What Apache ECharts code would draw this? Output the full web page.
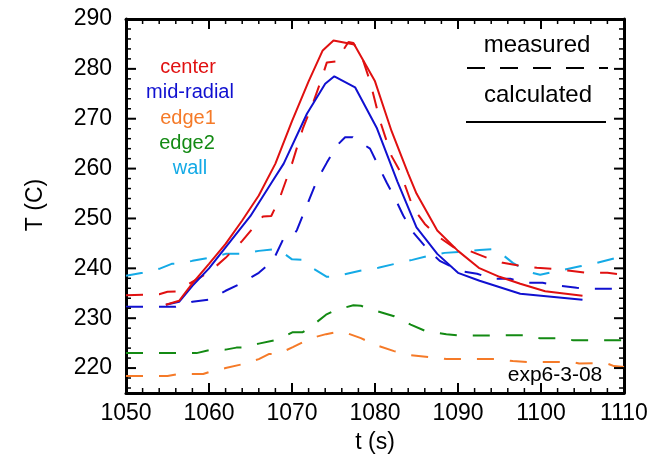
<!DOCTYPE html>
<html>
<head>
<meta charset="utf-8">
<script src="https://cdn.jsdelivr.net/npm/echarts@6/dist/echarts.min.js"></script>
</head>
<body style="margin:0">
<div id="main" style="width:654px;height:456px"></div>
<script>
var chart = echarts.init(document.getElementById('main'));

// measured (dashed) curves
var centerMeasT = [1050, 1054, 1055, 1056.3, 1057.5, 1060, 1062, 1064, 1066, 1066.5, 1067.5, 1068.5, 1070, 1071.3, 1072.5, 1073.5, 1074.2, 1075.4, 1076, 1076.8, 1077.4, 1078.5, 1079.4, 1080.6, 1082, 1083, 1084.6, 1086, 1087.5, 1089.5, 1091.4, 1093.5, 1095.4, 1097.5, 1099.5, 1101.4, 1103.5, 1105.5, 1108, 1110];
var centerMeas = [234.6, 234.8, 235.3, 235.4, 236.8, 239.2, 242.1, 245.5, 249.5, 250.4, 250.5, 254, 261, 268, 273, 277.7, 281.3, 281.5, 283.3, 285.4, 285.2, 282, 277.5, 269.6, 262.5, 259.5, 252.1, 248.9, 246.5, 244.2, 243.5, 242.1, 241.1, 240.5, 240.1, 239.9, 239.5, 239.1, 239.1, 238.7];

var midMeasT = [1050, 1056, 1056.6, 1058, 1060, 1062, 1064, 1066, 1067.7, 1068.9, 1069.6, 1070.3, 1070.6, 1073, 1074.2, 1075.4, 1076.4, 1077.3, 1079.4, 1080.4, 1081.4, 1082.4, 1083.4, 1084.6, 1086.3, 1087.8, 1090.2, 1092.3, 1094.2, 1096.3, 1098.3, 1100.2, 1102.3, 1104.3, 1106.3, 1110];
var midMeas = [232.3, 232.3, 232.5, 233.3, 233.7, 235.5, 237.1, 239.1, 241.5, 245.7, 246.8, 246.9, 247.7, 257.6, 261.2, 264.6, 266.3, 266.3, 264, 260.6, 257.2, 254.1, 250.6, 247.2, 243.9, 241.5, 239.5, 238.9, 237.9, 237.9, 237.1, 237.1, 236.5, 236.1, 235.9, 235.9];

var edge1MeasT = [1050, 1055, 1056.3, 1059.3, 1060, 1062, 1064.1, 1066, 1067.2, 1068.3, 1070.1, 1072.3, 1074.1, 1075.3, 1076.3, 1078.3, 1080.1, 1082.3, 1084.3, 1086.4, 1087.3, 1088.6, 1094.6, 1096.6, 1098.6, 1103.8, 1104.6, 1107.8, 1108.8, 1110];
var edge1Meas = [218.4, 218.4, 218.8, 218.8, 219.2, 220, 220.8, 221.8, 222.8, 222.8, 224.2, 226, 226.8, 227.2, 227.2, 226, 224.6, 223.4, 222.6, 222.2, 222.2, 221.8, 221.8, 221.4, 221.2, 221.2, 220.9, 221, 220.4, 220.2];

var edge2MeasT = [1050, 1058.5, 1060, 1062, 1063.3, 1064.1, 1066, 1068.3, 1070.1, 1071.3, 1072.3, 1074.1, 1075.3, 1076.3, 1077.4, 1078.3, 1080.1, 1082.3, 1084.3, 1086.4, 1087.3, 1088.6, 1090.4, 1098.6, 1099.8, 1102.6, 1103.8, 1110];
var edge2Meas = [223.0, 223.0, 223.6, 223.7, 224.1, 224.1, 224.9, 225.7, 227.2, 227.2, 228.3, 230.7, 231.7, 232.1, 232.6, 232.5, 231.5, 230.4, 228.7, 227.2, 227.1, 226.8, 226.5, 226.6, 226.0, 226.0, 225.6, 225.6];

var wallMeasT = [1050, 1052, 1054, 1055.5, 1056.3, 1058, 1060, 1062, 1064, 1066, 1068.3, 1070, 1071.2, 1072.4, 1074.2, 1075.2, 1076.1, 1078.2, 1080.4, 1082.4, 1084.5, 1086.4, 1088.4, 1090.5, 1092.6, 1094.5, 1096.6, 1098.5, 1099.9, 1102.7, 1104.7, 1106.7, 1110];
var wallMeas = [238.5, 239.1, 239.9, 240.9, 240.9, 241.5, 242.1, 242.9, 242.9, 243.5, 243.9, 241.8, 241.7, 240.1, 238.3, 238.3, 238.7, 239.5, 240.1, 240.9, 241.7, 242.5, 243.1, 243.3, 243.7, 243.9, 241.1, 239.3, 238.7, 239.7, 240.4, 241.1, 242.5];

// calculated (solid) curves
var centerCalcT = [1054.8, 1056.4, 1058, 1060, 1062, 1064, 1066, 1068, 1070, 1072, 1073.7, 1075, 1077.5, 1080, 1082, 1084, 1085, 1087.5, 1090, 1092.5, 1095, 1097.5, 1100.5, 1105];
var centerCalc = [232.7, 233.5, 237, 240.9, 244.9, 249.6, 254.6, 261, 269.5, 277.5, 283.7, 285.7, 284.9, 277.5, 267.5, 259, 255, 247.6, 243.5, 240.1, 238.3, 236.9, 235.4, 234.5];

var midCalcT = [1054.8, 1056.4, 1058, 1060, 1062, 1065, 1067.7, 1069, 1071.8, 1074, 1075.1, 1077.6, 1080.2, 1082.7, 1085, 1087.5, 1090, 1092.6, 1097.5, 1105];
var midCalc = [232.7, 233.3, 236.5, 240, 244.2, 250.5, 257.6, 261, 271, 277, 278.5, 276.3, 268.2, 257.4, 248.2, 242.9, 239.1, 237.5, 234.9, 233.7];

// axis ranges and tick steps
var xMin = 1050, xMax = 1110, xMajorStep = 10, xMinorStep = 2;
var yMin = 215, yMax = 290, yMajorStep = 10, yMinorStep = 2;

var colors = { center: '#e01010', mid: '#1010d0', edge1: '#f57a28', edge2: '#138a13', wall: '#14aae6' };
var FONT = 'Liberation Sans, Arial, sans-serif';

function pairs(t, v) {
  return t.map(function (x, i) { return [x, v[i]]; });
}

function lineSeries(name, t, v, color, dashed) {
  return {
    name: name,
    type: 'line',
    data: pairs(t, v),
    showSymbol: false,
    symbol: 'none',
    silent: true,
    lineStyle: { color: color, width: 2, type: dashed ? [17, 16] : 'solid' },
    z: dashed ? 2 : 3
  };
}

function frameAxis(pos, min, max, interval) {
  var ax = {
    type: 'value', position: pos, min: min, max: max,
    axisLine: { show: true, onZero: false, lineStyle: { color: '#000', width: 3 } },
    axisTick: { show: false },
    splitLine: { show: false },
    axisLabel: { show: false }
  };
  if (interval) ax.interval = interval; else ax.splitNumber = 7;
  return ax;
}

function labelAxis(pos, min, max, interval, label) {
  var ax = {
    type: 'value', position: pos, min: min, max: max,
    axisLine: { show: false, onZero: false },
    axisTick: { show: false },
    splitLine: { show: false },
    axisLabel: label
  };
  if (interval) ax.interval = interval; else ax.splitNumber = 7;
  return ax;
}

var texts = [
  { type: 'text', x: 375, y: 443, style: { text: 't (s)', fill: '#000', font: '23px ' + FONT, align: 'center', verticalAlign: 'middle' } },
  { type: 'text', x: 36, y: 205, rotation: Math.PI / 2, style: { text: 'T (C)', fill: '#000', font: '23px ' + FONT, align: 'center', verticalAlign: 'middle' } },
  { type: 'text', x: 188, y: 67, style: { text: 'center', fill: colors.center, font: '20px ' + FONT, align: 'center', verticalAlign: 'middle' } },
  { type: 'text', x: 190, y: 92, style: { text: 'mid-radial', fill: colors.mid, font: '20px ' + FONT, align: 'center', verticalAlign: 'middle' } },
  { type: 'text', x: 188, y: 118, style: { text: 'edge1', fill: colors.edge1, font: '20px ' + FONT, align: 'center', verticalAlign: 'middle' } },
  { type: 'text', x: 187, y: 143, style: { text: 'edge2', fill: colors.edge2, font: '20px ' + FONT, align: 'center', verticalAlign: 'middle' } },
  { type: 'text', x: 190, y: 168, style: { text: 'wall', fill: colors.wall, font: '20px ' + FONT, align: 'center', verticalAlign: 'middle' } },
  { type: 'text', x: 537, y: 45, style: { text: 'measured', fill: '#000', font: '24px ' + FONT, align: 'center', verticalAlign: 'middle' } },
  { type: 'line', shape: { x1: 467, y1: 68, x2: 608, y2: 68 }, style: { stroke: '#000', lineWidth: 2, lineDash: [18, 15] } },
  { type: 'text', x: 538, y: 95, style: { text: 'calculated', fill: '#000', font: '24px ' + FONT, align: 'center', verticalAlign: 'middle' } },
  { type: 'line', shape: { x1: 466, y1: 122, x2: 606, y2: 122 }, style: { stroke: '#000', lineWidth: 2 } },
  { type: 'text', x: 555, y: 375, style: { text: 'exp6-3-08', fill: '#000', font: '21px ' + FONT, align: 'center', verticalAlign: 'middle' } }
];

var option = {
  animation: false,
  grid: { left: 126, right: 30, top: 19, bottom: 63 },
  xAxis: [
    frameAxis('bottom', xMin, xMax, xMajorStep),
    frameAxis('top', xMin, xMax, xMajorStep),
    labelAxis('bottom', xMin, xMax, xMajorStep,
      { fontSize: 23, color: '#000', margin: 9, fontFamily: FONT, formatter: function (v) { return String(v); } })
  ],
  yAxis: [
    frameAxis('left', yMin, yMax),
    frameAxis('right', yMin, yMax),
    labelAxis('left', yMin, yMax, 0,
      { fontSize: 23, color: '#000', margin: 14, fontFamily: FONT, showMinLabel: false })
  ],
  series: [
    lineSeries('wall measured', wallMeasT, wallMeas, colors.wall, true),
    lineSeries('edge2 measured', edge2MeasT, edge2Meas, colors.edge2, true),
    lineSeries('edge1 measured', edge1MeasT, edge1Meas, colors.edge1, true),
    lineSeries('mid-radial measured', midMeasT, midMeas, colors.mid, true),
    lineSeries('center measured', centerMeasT, centerMeas, colors.center, true),
    lineSeries('mid-radial calculated', midCalcT, midCalc, colors.mid, false),
    lineSeries('center calculated', centerCalcT, centerCalc, colors.center, false)
  ],
  graphic: texts
};

chart.setOption(option);

// inside ticks on all four sides, placed through the axes' own scales
function px(v) { return chart.convertToPixel({ xAxisIndex: 0 }, v); }
function py(v) { return chart.convertToPixel({ yAxisIndex: 0 }, v); }
var left = px(xMin), right = px(xMax), top0 = py(yMax), bottom0 = py(yMin);
var ticks = [];
function tick(x1, y1, x2, y2, w) {
  ticks.push({ type: 'line', z: 100, silent: true, shape: { x1: x1, y1: y1, x2: x2, y2: y2 }, style: { stroke: '#000', lineWidth: w } });
}
var v, isMajor, len, x, y;
for (v = xMin; v <= xMax + 1e-9; v += xMinorStep) {
  isMajor = Math.abs((v - xMin) % xMajorStep) < 1e-9;
  len = isMajor ? 10 : 5;
  x = px(v);
  tick(x, bottom0, x, bottom0 - len, isMajor ? 2 : 1.5);
  tick(x, top0, x, top0 + len, isMajor ? 2 : 1.5);
}
for (v = Math.ceil(yMin / yMinorStep) * yMinorStep; v <= yMax + 1e-9; v += yMinorStep) {
  isMajor = Math.abs(v % yMajorStep) < 1e-9;
  len = isMajor ? 10 : 5;
  y = py(v);
  tick(left, y, left + len, y, isMajor ? 2 : 1.5);
  tick(right, y, right - len, y, isMajor ? 2 : 1.5);
}
chart.setOption({ graphic: texts.concat(ticks) });
</script>
</body>
</html>
